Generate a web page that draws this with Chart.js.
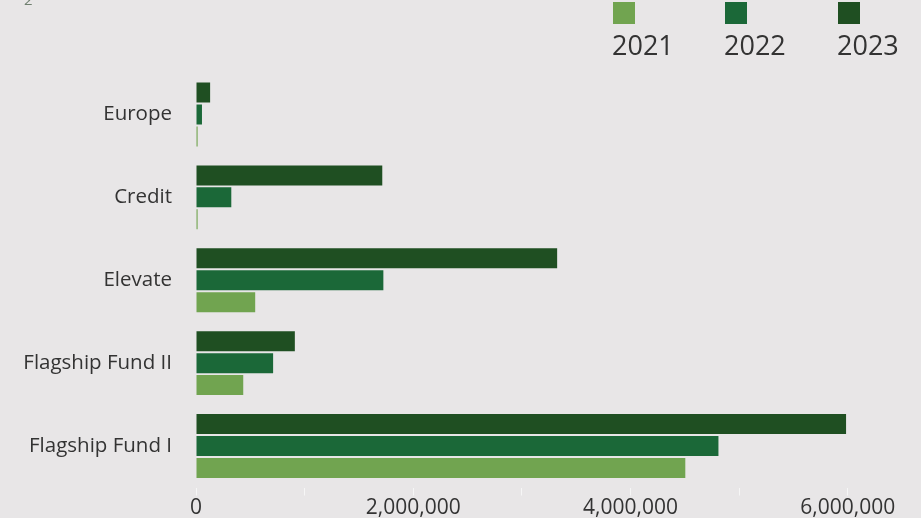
<!DOCTYPE html>
<html>
<head>
<meta charset="utf-8">
<title>Funds by year</title>
<script src="https://cdn.jsdelivr.net/npm/chart.js@4.4.1/dist/chart.umd.min.js"></script>
<style>
    body {
        margin: 0;
        background: #e8e6e7;
        font-family: "Open Sans", sans-serif;
    }
    #wrap {
        position: relative;
        width: 921px;
        height: 518px;
        overflow: hidden;
    }
    #corner {
        position: absolute;
        left: 24px;
        top: -11px;
        font-size: 15px;
        color: #6f7f6f;
    }
    .legend-item {
        position: absolute;
        top: 2px;
    }
    .legend-item .box {
        width: 22px;
        height: 22px;
    }
    .legend-item .txt {
        font-size: 27px;
        color: #333;
        line-height: 1;
        margin-top: 7px;
        margin-left: -1px;
    }
</style>
</head>
<body>
<div id="wrap">
    <span id="corner">2</span>
    <div id="legend"></div>
    <canvas id="fundChart"></canvas>
</div>
<script>
// Categories, top to bottom
const categories = ['Europe', 'Credit', 'Elevate', 'Flagship Fund II', 'Flagship Fund I'];

// Values per year
const values2021 = [15000, 15000, 545000, 435000, 4505000];
const values2022 = [55000, 325000, 1725000, 710000, 4810000];
const values2023 = [130000, 1715000, 3325000, 910000, 5985000];

const years = ['2021', '2022', '2023'];
const yearColors = ['#71a450', '#1b6838', '#1f4f22'];
const legendLeft = [613, 725, 838];

// x axis ticks (marks every million, labels every two)
const xMax = 6500000;
const xTicks = [0, 1000000, 2000000, 3000000, 4000000, 5000000, 6000000];
const xTickLabels = ['0', '', '2,000,000', '', '4,000,000', '', '6,000,000'];

// Legend (boxes above text)
const legendEl = document.getElementById('legend');
years.forEach((yr, i) => {
    const item = document.createElement('div');
    item.className = 'legend-item';
    item.style.left = legendLeft[i] + 'px';
    item.innerHTML = '<div class="box" style="background:' + yearColors[i] + '"></div><div class="txt">' + yr + '</div>';
    legendEl.appendChild(item);
});

const ctx = document.getElementById('fundChart');

new Chart(ctx, {
    type: 'bar',
    data: {
        labels: categories,
        datasets: [
            { label: '2023', data: values2023, backgroundColor: yearColors[2] },
            { label: '2022', data: values2022, backgroundColor: yearColors[1] },
            { label: '2021', data: values2021, backgroundColor: yearColors[0] }
        ]
    },
    options: {
        indexAxis: 'y',
        responsive: true,
        maintainAspectRatio: false,
        animation: false,
        datasets: {
            bar: {
                categoryPercentage: 0.795,
                barPercentage: 0.91
            }
        },
        layout: {
            padding: { top: 73, right: 19, left: 0, bottom: 0 }
        },
        plugins: {
            legend: { display: false },
            tooltip: { enabled: false }
        },
        scales: {
            x: {
                min: 0,
                max: xMax,
                grid: {
                    drawOnChartArea: false,
                    drawTicks: true,
                    tickLength: 8,
                    color: '#f6f6f6'
                },
                border: { display: false },
                afterBuildTicks: function(scale) {
                    scale.ticks = xTicks.map(v => ({ value: v }));
                },
                afterFit: function(scale) {
                    scale.height = 30.5;
                },
                ticks: {
                    autoSkip: false,
                    maxRotation: 0,
                    padding: 0,
                    color: '#333',
                    font: { family: 'Open Sans', size: 21 },
                    callback: function(value) {
                        const i = xTicks.indexOf(value);
                        return i >= 0 ? xTickLabels[i] : '';
                    }
                }
            },
            y: {
                grid: { display: false },
                border: { display: false },
                afterFit: function(scale) {
                    scale.width = 196;
                },
                ticks: {
                    padding: 16,
                    color: '#333',
                    font: { family: 'Open Sans', size: 20.5 }
                }
            }
        }
    }
});
</script>
</body>
</html>
